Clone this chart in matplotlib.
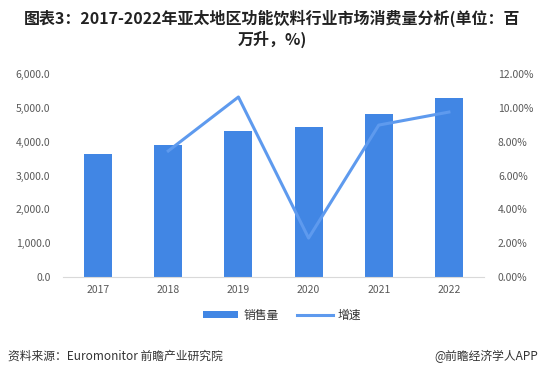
import matplotlib.pyplot as plt
import numpy as np
from matplotlib.ticker import FuncFormatter

plt.rcParams['font.family'] = ['Noto Sans CJK SC', 'DejaVu Sans']

years = ['2017', '2018', '2019', '2020', '2021', '2022']
sales = [3640, 3900, 4315, 4430, 4820, 5290]
growth = [None, 7.45, 10.64, 2.3, 8.98, 9.75]

bar_color = '#4186E4'
line_color = '#5E9AEE'
tick_color = '#595959'

fig = plt.figure(figsize=(5.44, 3.78), dpi=100)
ax = fig.add_axes([63 / 544, 1 - 277 / 378, (484 - 63) / 544, (277 - 74) / 378])

x = np.arange(len(years))
ax.bar(x, sales, width=0.4, color=bar_color, label='销售量', zorder=2)
ax.set_xlim(-0.5, len(years) - 0.5)
ax.set_ylim(0, 6000)
ax.set_yticks(np.arange(0, 6001, 1000))
ax.yaxis.set_major_formatter(FuncFormatter(lambda v, p: f'{v:,.1f}'))
ax.set_xticks(x)
ax.set_xticklabels(years)

ax2 = ax.twinx()
gx = [i for i, g in enumerate(growth) if g is not None]
gy = [g for g in growth if g is not None]
ax2.plot(gx, gy, color=line_color, lw=2.2, label='增速', zorder=3)
ax2.set_ylim(0, 12)
ax2.set_yticks(np.arange(0, 12.1, 2))
ax2.yaxis.set_major_formatter(FuncFormatter(lambda v, p: f'{v:.2f}%'))

for a in (ax, ax2):
    for s in a.spines.values():
        s.set_visible(False)
    a.tick_params(length=0, labelsize=7.5, colors=tick_color)
ax.spines['bottom'].set_visible(True)
ax.spines['bottom'].set_color('#D9D9D9')
ax.tick_params(axis='y', pad=9)
ax2.tick_params(axis='y', pad=10)
ax.tick_params(axis='x', pad=6)

h1, l1 = ax.get_legend_handles_labels()
h2, l2 = ax2.get_legend_handles_labels()
fig.legend(h1 + h2, l1 + l2, loc='center', bbox_to_anchor=(282 / 544, 1 - 315 / 378),
           ncol=2, frameon=False, fontsize=8.5, handlelength=3.0, handleheight=0.5,
           columnspacing=1.6, handletextpad=0.4, labelcolor='#333333')

fig.text(0.5, 1 - 18 / 378, '图表3：2017-2022年亚太地区功能饮料行业市场消费量分析(单位：百',
         ha='center', va='center', fontsize=11.5, fontweight='bold', color='#222222')
fig.text(0.5, 1 - 39 / 378, '万升，%)', ha='center', va='center', fontsize=11.5,
         fontweight='bold', color='#222222')

fig.text(8 / 544, 1 - 356 / 378, '资料来源：Euromonitor 前瞻产业研究院', ha='left', va='center',
         fontsize=8.5, color='#333333')
fig.text(538 / 544, 1 - 356 / 378, '@前瞻经济学人APP', ha='right', va='center',
         fontsize=8.5, color='#333333')

fig.savefig('out.png', dpi=100)
